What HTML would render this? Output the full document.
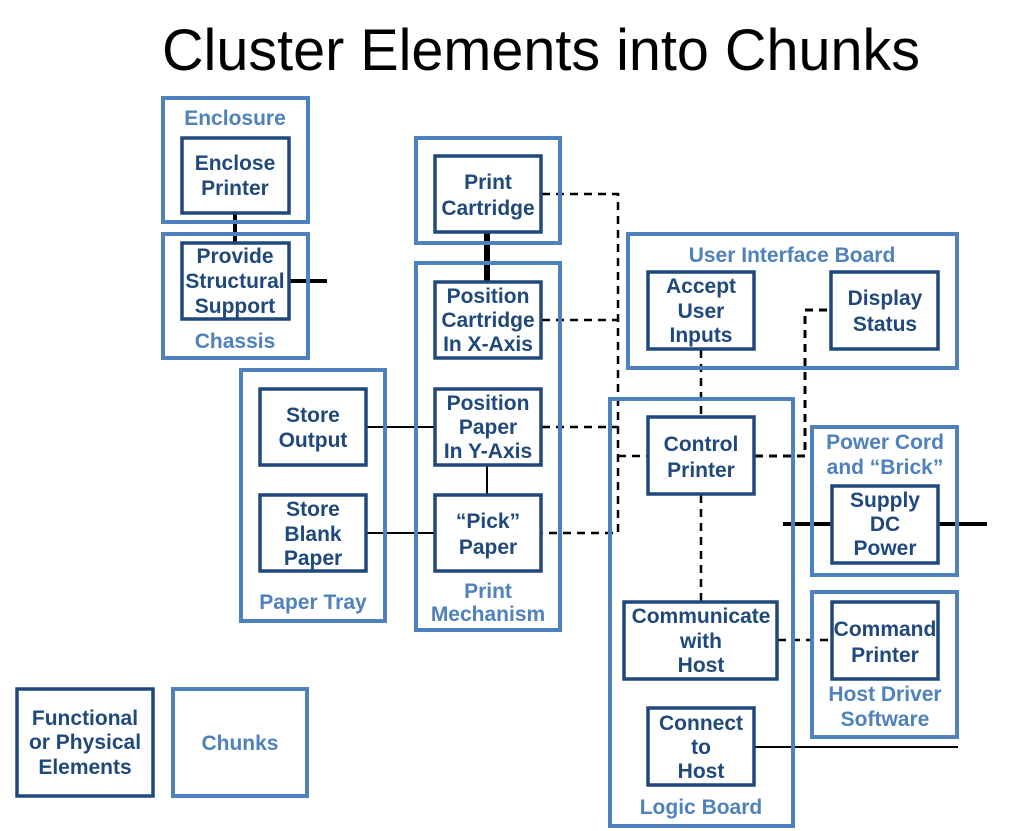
<!DOCTYPE html>
<html><head><meta charset="utf-8"><style>
html,body{margin:0;padding:0;background:#fff;}
svg{display:block;}
.c{fill:none;stroke:#4F81BD;stroke-width:4;}
.e{fill:#fff;stroke:#1F497D;stroke-width:3.5;}
text{font-family:"Liberation Sans",Arial,sans-serif;font-weight:bold;font-size:21px;text-anchor:middle;}
.et{fill:#1F497D;}
.ct{fill:#4F81BD;}
.d{stroke:#000;stroke-width:2.5;stroke-dasharray:8,6;fill:none;}
.s{stroke:#000;fill:none;}
</style></head><body>
<svg width="1027" height="831" viewBox="0 0 1027 831">
<text x="162" y="70" style="font-weight:normal;font-size:58px;text-anchor:start;fill:#000" textLength="758" lengthAdjust="spacingAndGlyphs">Cluster Elements into Chunks</text>

<!-- lines -->
<line class="s" x1="235" y1="214" x2="235" y2="242" stroke-width="4"/>
<line class="s" x1="290" y1="281" x2="327" y2="281" stroke-width="4"/>
<line class="s" x1="487" y1="233" x2="487" y2="281" stroke-width="6"/>
<line class="s" x1="367" y1="427" x2="434" y2="427" stroke-width="2"/>
<line class="s" x1="367" y1="533" x2="434" y2="533" stroke-width="2"/>
<line class="s" x1="487" y1="466" x2="487" y2="494" stroke-width="2"/>
<polyline class="d" points="542,194 618,194 618,533 542,533"/>
<line class="d" x1="542" y1="320" x2="618" y2="320"/>
<line class="d" x1="542" y1="427" x2="618" y2="427"/>
<line class="d" x1="618" y1="456" x2="647" y2="456"/>
<line class="d" x1="701" y1="350" x2="701" y2="416"/>
<polyline class="d" points="755,456 805,456 805,310 830,310" style="stroke-width:3"/>
<line class="d" x1="701" y1="495" x2="701" y2="601"/>
<line class="d" x1="778" y1="640" x2="831" y2="640"/>
<line class="s" x1="755" y1="747" x2="958" y2="747" stroke-width="2"/>
<line class="s" x1="783" y1="524" x2="831" y2="524" stroke-width="4"/>
<line class="s" x1="939" y1="524" x2="987" y2="524" stroke-width="4"/>

<!-- chunks -->
<rect class="c" x="163" y="98" width="145" height="124"/>
<rect class="c" x="163" y="234" width="145" height="124"/>
<rect class="c" x="416" y="138" width="144" height="105"/>
<rect class="c" x="416" y="263" width="144" height="367"/>
<rect class="c" x="241" y="370" width="144" height="251"/>
<rect class="c" x="628" y="234" width="329" height="134"/>
<rect class="c" x="610" y="399" width="183" height="427"/>
<rect class="c" x="812" y="427" width="145" height="148"/>
<rect class="c" x="812" y="592" width="145" height="145"/>
<rect class="c" x="173" y="689" width="134" height="107"/>

<text class="ct" x="235" y="125">Enclosure</text>
<text class="ct" x="235" y="348">Chassis</text>
<text class="ct" x="313" y="609">Paper Tray</text>
<text class="ct" x="488" y="598">Print</text>
<text class="ct" x="488" y="621">Mechanism</text>
<text class="ct" x="792" y="262">User Interface Board</text>
<text class="ct" x="701" y="814">Logic Board</text>
<text class="ct" x="885" y="449">Power Cord</text>
<text class="ct" x="885" y="474">and “Brick”</text>
<text class="ct" x="885" y="701">Host Driver</text>
<text class="ct" x="885" y="726">Software</text>
<text class="ct" x="240" y="750">Chunks</text>

<!-- elements -->
<rect class="e" x="182" y="138" width="107" height="75"/>
<text class="et" x="235" y="170">Enclose</text><text class="et" x="235" y="195">Printer</text>
<rect class="e" x="182" y="243" width="107" height="76"/>
<text class="et" x="235" y="263">Provide</text><text class="et" x="235" y="288">Structural</text><text class="et" x="235" y="313">Support</text>
<rect class="e" x="435" y="156" width="106" height="76"/>
<text class="et" x="488" y="189">Print</text><text class="et" x="488" y="215">Cartridge</text>
<rect class="e" x="435" y="282" width="106" height="76"/>
<text class="et" x="488" y="303">Position</text><text class="et" x="488" y="327">Cartridge</text><text class="et" x="488" y="351">In X-Axis</text>
<rect class="e" x="435" y="389" width="106" height="76"/>
<text class="et" x="488" y="410">Position</text><text class="et" x="488" y="434">Paper</text><text class="et" x="488" y="458">In Y-Axis</text>
<rect class="e" x="435" y="495" width="106" height="76"/>
<text class="et" x="488" y="528">“Pick”</text><text class="et" x="488" y="554">Paper</text>
<rect class="e" x="260" y="389" width="106" height="76"/>
<text class="et" x="313" y="422">Store</text><text class="et" x="313" y="447">Output</text>
<rect class="e" x="260" y="495" width="106" height="76"/>
<text class="et" x="313" y="516">Store</text><text class="et" x="313" y="541">Blank</text><text class="et" x="313" y="565">Paper</text>
<rect class="e" x="648" y="272" width="106" height="77"/>
<text class="et" x="701" y="293">Accept</text><text class="et" x="701" y="318">User</text><text class="et" x="701" y="342">Inputs</text>
<rect class="e" x="831" y="272" width="107" height="77"/>
<text class="et" x="885" y="305">Display</text><text class="et" x="885" y="331">Status</text>
<rect class="e" x="648" y="417" width="106" height="77"/>
<text class="et" x="701" y="451">Control</text><text class="et" x="701" y="477">Printer</text>
<rect class="e" x="624" y="602" width="153" height="77"/>
<text class="et" x="701" y="623">Communicate</text><text class="et" x="701" y="648">with</text><text class="et" x="701" y="672">Host</text>
<rect class="e" x="648" y="708" width="106" height="77"/>
<text class="et" x="701" y="730">Connect</text><text class="et" x="701" y="754">to</text><text class="et" x="701" y="778">Host</text>
<rect class="e" x="832" y="486" width="106" height="77"/>
<text class="et" x="885" y="507">Supply</text><text class="et" x="885" y="531">DC</text><text class="et" x="885" y="555">Power</text>
<rect class="e" x="832" y="602" width="106" height="77"/>
<text class="et" x="885" y="636">Command</text><text class="et" x="885" y="662">Printer</text>
<rect class="e" x="17" y="689" width="136" height="107"/>
<text class="et" x="85" y="725">Functional</text><text class="et" x="85" y="749">or Physical</text><text class="et" x="85" y="774">Elements</text>
</svg>
</body></html>
